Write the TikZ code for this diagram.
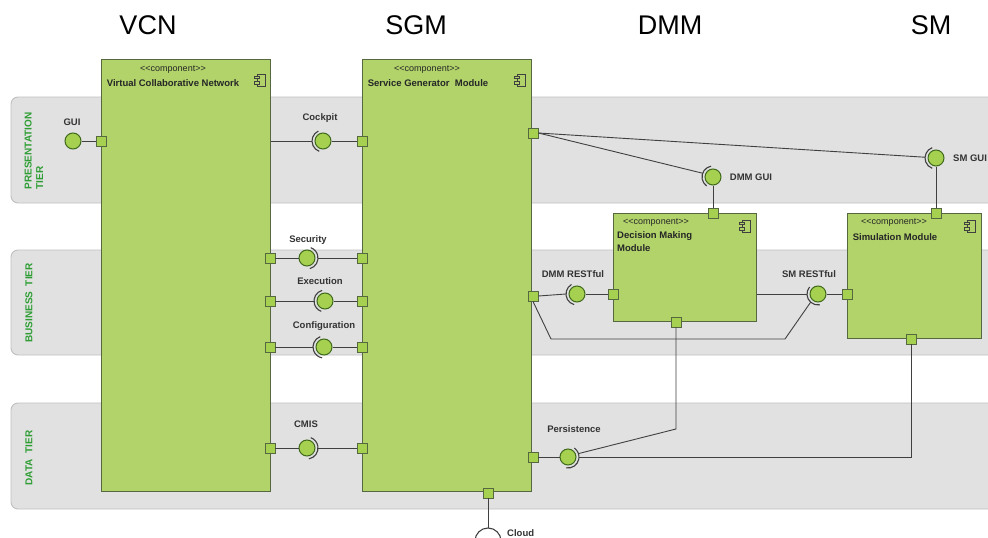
\documentclass[tikz,border=0pt]{standalone}
\usepackage{fontspec}
\setmainfont{Liberation Sans}
\usetikzlibrary{calc}
\definecolor{compgreen}{HTML}{B1D36A}
\definecolor{compedge}{HTML}{55683F}
\definecolor{portfill}{HTML}{A6D04F}
\definecolor{balledge}{HTML}{3F6A1C}
\definecolor{bandfill}{HTML}{E1E1E1}
\definecolor{bandedge}{HTML}{C0C0C0}
\definecolor{tiergreen}{HTML}{2E9E34}
\definecolor{wirecol}{HTML}{404040}
\newcommand\stereotxt{<\kern0pt<component>\kern0pt>}
\tikzset{
 band/.style={draw=bandedge, fill=bandfill, line width=0.9pt, rounded corners=7pt},
 comp/.style={draw=compedge, fill=compgreen, line width=1pt, inner sep=0pt, anchor=north west},
 port/.style={draw=compedge, fill=portfill, line width=0.9pt, minimum size=10pt, inner sep=0pt},
 ball/.style={circle, draw=balledge, fill=portfill, line width=1pt, minimum size=16pt, inner sep=0pt},
 sock/.style={draw=wirecol, line width=1.1pt},
 wire/.style={draw=wirecol, line width=0.9pt},
 lbl/.style={font=\bfseries\fontsize{9.5}{11}\selectfont, text=black!80, inner sep=0pt},
 tier/.style={font=\bfseries\fontsize{10}{11.5}\selectfont, text=tiergreen, rotate=90, align=left, inner sep=0pt},
 titletxt/.style={font=\fontsize{27}{30}\selectfont, inner sep=0pt},
 stereo/.style={font=\fontsize{9}{10}\selectfont, text=black!85, inner sep=0pt},
 cname/.style={font=\bfseries\fontsize{9.5}{13}\selectfont, text=black!85, inner sep=0pt, align=left},
 compicon/.pic={
   \draw[fill=compgreen, draw=black!75, line width=0.7pt] (-4,-6) rectangle (4,6);
   \draw[fill=compgreen, draw=black!75, line width=0.7pt] (-6.5,1.5) rectangle (-1.5,4);
   \draw[fill=compgreen, draw=black!75, line width=0.7pt] (-6.5,-4) rectangle (-1.5,-1.5);
 }
}
\begin{document}
\begin{tikzpicture}[x=1pt,y=1pt]
\useasboundingbox (0,0) rectangle (988,-538);
\clip (0,0) rectangle (988,-538);
\fill[white] (0,0) rectangle (988,-538);

% tier bands
\draw[band] (11,-97) rectangle (1010,-203);
\draw[band] (11,-250) rectangle (1010,-355);
\draw[band] (11,-403) rectangle (1010,-509);
\node[tier] (tpres) at (34,-151) {PRESENTATION\\TIER};
\node[tier] (tbiz) at (29,-303) {BUSINESS\ \ TIER};
\node[tier] (tdata) at (29,-458) {DATA\ \ TIER};

% titles
\node[titletxt] (tvcn) at (148,-25) {VCN};
\node[titletxt] (tsgm) at (416,-25) {SGM};
\node[titletxt] (tdmm) at (670,-25) {DMM};
\node[titletxt] (tsm) at (931,-25) {SM};

% components
\node[comp, minimum width=169pt, minimum height=432pt] (vcn) at (101,-59) {};
\node[comp, minimum width=169pt, minimum height=432pt] (sgm) at (362,-59) {};
\node[comp, minimum width=143pt, minimum height=108pt] (dmm) at (613,-213) {};
\node[comp, minimum width=134pt, minimum height=125pt] (sm) at (847,-213) {};

\pic at (261,-80) {compicon};
\pic at (521,-80) {compicon};
\pic at (746,-226) {compicon};
\pic at (971,-226) {compicon};

\node[stereo] (vcnst) at (173,-70) {\stereotxt};
\node[cname] (vcnnm) at (173,-83) {Virtual Collaborative Network};
\node[stereo] (sgmst) at (427,-70) {\stereotxt};
\node[cname] (sgmnm) at (428,-83) {Service Generator\ \ Module};
\node[stereo] (dmmst) at (656,-223) {\stereotxt};
\node[cname, anchor=north west] (dmmnm) at (617,-231) {Decision Making\\Module};
\node[stereo] (smst) at (894,-223) {\stereotxt};
\node[cname] (smnm) at (895,-237) {Simulation Module};

% ports
\node[port] (pgui) at (101,-141) {};
\node[port] (psc) at (362,-141) {};
\node[port] (vsec) at (270,-258) {};
\node[port] (ssec) at (362,-258) {};
\node[port] (vexe) at (270,-301) {};
\node[port] (sexe) at (362,-301) {};
\node[port] (vcfg) at (270,-347) {};
\node[port] (scfg) at (362,-347) {};
\node[port] (vcmis) at (270,-448) {};
\node[port] (scmis) at (362,-448) {};
\node[port] (sgmtop) at (533,-133) {};
\node[port] (sgmbiz) at (533,-296) {};
\node[port] (sgmdata) at (533,-457) {};
\node[port] (sgmbot) at (488,-493) {};
\node[port] (dmmtop) at (713,-213) {};
\node[port] (dmmleft) at (613,-294) {};
\node[port] (dmmbot) at (676,-322) {};
\node[port] (smtop) at (936,-213) {};
\node[port] (smleft) at (847,-294) {};
\node[port] (smbot) at (911,-339) {};

% balls
\node[ball] (bgui) at (73,-141) {};
\node[ball] (bcock) at (323,-141) {};
\node[ball] (bsec) at (307,-258) {};
\node[ball] (bexe) at (325,-301) {};
\node[ball] (bcfg) at (324,-347) {};
\node[ball] (bcmis) at (307,-448) {};
\node[ball] (bdmmgui) at (713,-177) {};
\node[ball] (bsmgui) at (936,-158) {};
\node[ball] (bdmmrest) at (577,-294) {};
\node[ball] (bsmrest) at (818,-294) {};
\node[ball] (bpers) at (568,-457) {};
\coordinate (cloudc) at (488,-541);

% sockets
\draw[sock] ($(bcock)+(115:11)$) arc (115:250:11);
\draw[sock] ($(bsec)+(-75:11)$) arc (-75:70:11);
\draw[sock] ($(bexe)+(105:11)$) arc (105:250:11);
\draw[sock] ($(bcfg)+(110:11)$) arc (110:260:11);
\draw[sock] ($(bcmis)+(-80:11)$) arc (-80:70:11);
\draw[sock] ($(bdmmgui)+(100:11)$) arc (100:235:11);
\draw[sock] ($(bsmgui)+(110:11)$) arc (110:250:11);
\draw[sock] ($(bdmmrest)+(120:11)$) arc (120:255:11);
\draw[sock] ($(bsmrest)+(140:11)$) arc (140:280:11);
\draw[sock] ($(bpers)+(-100:11)$) arc (-100:55:11);
\draw[sock] ($(cloudc)+(0:13)$) arc (0:180:13);

% connectors
\draw[wire] (bgui.east) -- (pgui.west);
\draw[wire] (vcn.east |- bcock) -- ($(bcock)+(180:11)$);
\draw[wire] (bcock.east) -- (psc.west);
\draw[wire] (vsec.east) -- (bsec.west);
\draw[wire] ($(bsec)+(0:11)$) -- (ssec.west);
\draw[wire] (vexe.east) -- ($(bexe)+(180:11)$);
\draw[wire] (bexe.east) -- (sexe.west);
\draw[wire] (vcfg.east) -- ($(bcfg)+(180:11)$);
\draw[wire] (bcfg.east) -- (scfg.west);
\draw[wire] (vcmis.east) -- (bcmis.west);
\draw[wire] ($(bcmis)+(0:11)$) -- (scmis.west);
\draw[wire] (sgmtop.east) -- ($(bdmmgui)+(160:11)$);
\draw[wire] (bdmmgui.south) -- (dmmtop.north);
\draw[wire] (sgmtop.east) -- ($(bsmgui)+(176:11)$);
\draw[wire] (bsmgui.south) -- (smtop.north);
\draw[wire] (sgmbiz.east) -- ($(bdmmrest)+(180:11)$);
\draw[wire] (bdmmrest.east) -- (dmmleft.west);
\draw[wire] (dmm.east |- bsmrest) -- ($(bsmrest)+(180:11)$);
\draw[wire] (bsmrest.east) -- (smleft.west);
\coordinate (lp1) at (551,-339);
\coordinate (lp2) at (785,-339);
\draw[wire] (sgmbiz.south) -- (lp1) -- (lp2) -- ($(bsmrest)+(228:11)$);
\coordinate (dp1) at (676,-429);
\draw[wire] (dmmbot.south) -- (dp1) -- ($(bpers)+(18:11)$);
\coordinate (sp1) at (911,-457);
\draw[wire] (smbot.south) -- (sp1) -- ($(bpers)+(0:11)$);
\draw[wire] (sgmdata.east) -- (bpers.west);
\draw[wire] (sgmbot.south) -- ($(cloudc)+(90:13)$);

% labels
\node[lbl] (lgui) at (72,-122) {GUI};
\node[lbl] (lcock) at (320,-118) {Cockpit};
\node[lbl] (lsec) at (308,-240) {Security};
\node[lbl] (lexe) at (320,-281) {Execution};
\node[lbl] (lcfg) at (324,-326) {Configuration};
\node[lbl] (lcmis) at (306,-424) {CMIS};
\node[lbl] (ldmmgui) at (751,-177) {DMM GUI};
\node[lbl, anchor=west] (lsmgui) at (953,-158) {SM GUI};
\node[lbl] (ldmmrest) at (573,-274) {DMM RESTful};
\node[lbl] (lsmrest) at (809,-274) {SM RESTful};
\node[lbl] (lpers) at (574,-429) {Persistence};
\node[lbl, anchor=west] (lcloud) at (507,-533) {Cloud};
\end{tikzpicture}
\end{document}
